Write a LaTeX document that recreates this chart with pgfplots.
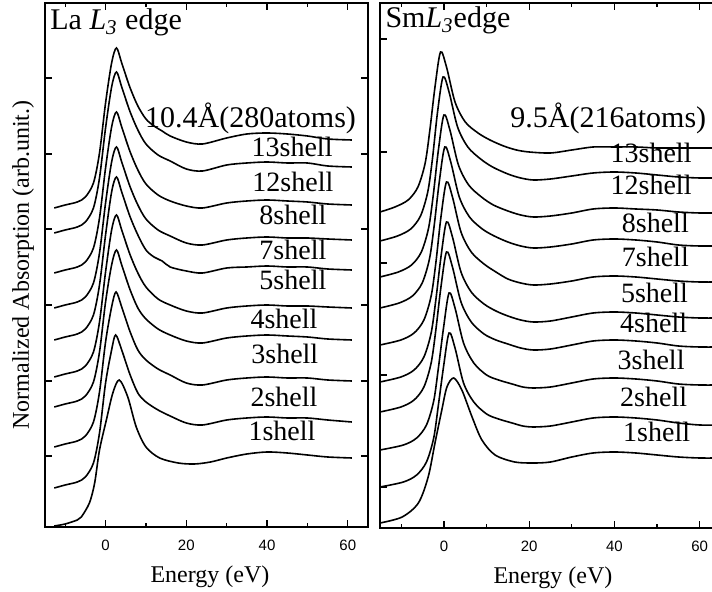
\documentclass[border=0pt]{standalone}
\usepackage{fontspec}
\setmainfont{Liberation Serif}
\setsansfont{Liberation Sans}
\usepackage{pgfplots}
\pgfplotsset{compat=1.18}

\pgfplotsset{
  panel/.style={
    scale only axis,
    xmin=-15, xmax=65,
    ymin=0,
    xtick={0,20,40,60},
    minor xtick={-10,10,30,50},
    tick align=inside,
    major tick length=3.5pt,
    minor tick length=2pt,
    tick style={black, line width=0.6pt},
    axis line style={black, line width=0.8pt},
    yticklabels={},
    xticklabel style={font=\fontsize{7.5}{8.5}\selectfont\sffamily, yshift=-3pt},
    /pgf/number format/assume math mode=true,
    xlabel style={font=\fontsize{12}{14}\selectfont, at={(axis description cs:0.5,0)}, anchor=center, yshift=-25pt},
    ylabel style={font=\fontsize{12}{14}\selectfont},
  },
}
\tikzset{
  sp/.style={black, solid, line width=0.8pt, smooth, mark=none},
  lbl/.style={anchor=base, inner sep=0pt, font=\fontsize{14}{16}\selectfont},
  big/.style={anchor=base west, inner sep=0pt, font=\fontsize{15}{17}\selectfont},
}

\begin{document}
\begin{tikzpicture}
% ---------------- La L3 edge ----------------
\begin{axis}[panel,
  width=161.5pt, height=262pt,
  ymax=524,
  ytick={71,146,222,298,373,449},
  xlabel={Energy (eV)},
  xlabel style={xshift=1.75pt},
  ylabel={Normalized Absorption (arb.unit.)},
  ylabel style={at={(axis description cs:-0.068,0.5)}, anchor=center},
]
% 10.4 A (280 atoms)
\addplot[sp] coordinates {(-12.7,319)(-10,322)(-7,325)(-5,330)(-3,344)(-1.5,374)(0,424)(1.5,464)(2.7,479)(4,464)(6,440)(8,421)(10,408)(12,401)(14,396)(16,391)(20,385)(24,383)(30,389)(35,393)(40,394)(45,393)(50,391)(55,388)(61,387)};
% 13 shell
\addplot[sp] coordinates {(-12.7,294)(-10,297)(-7,300)(-5,305)(-3,319)(-1.5,349)(0,399)(1.5,440)(2.7,455)(4,440)(6,416)(8,397)(10,383)(13,372)(16,366)(20,358)(24,356)(30,362)(35,364)(40,365)(45,364)(50,364)(55,361)(61,360)};
% 12 shell
\addplot[sp] coordinates {(-12.7,254)(-10,257)(-7,260)(-5,265)(-3,279)(-1.5,309)(0,359)(1.5,400)(2.7,415)(4,400)(6,376)(8,357)(10,343)(13,332)(16,326)(20,321)(24,319)(30,324)(35,326)(40,327)(45,326)(50,325)(55,323)(61,322)};
% 8 shell
\addplot[sp] coordinates {(-12.7,219)(-10,222)(-7,225)(-5,230)(-3,244)(-1.5,274)(0,324)(1.5,365)(2.7,380)(4,365)(6,341)(8,322)(10,308)(13,297)(16,291)(20,284)(24,282)(30,287)(35,289)(40,290)(45,289)(50,289)(55,288)(61,287)};
% 7 shell
\addplot[sp] coordinates {(-12.7,187)(-10,190)(-7,193)(-5,198)(-3,212)(-1.5,242)(0,292)(1.5,335)(2.7,350)(4,335)(6,311)(8,292)(10,277)(12,270)(14,266)(16,260)(20,256)(24,254)(30,259)(35,260)(40,261)(45,260)(50,260)(55,258)(61,257)};
% 5 shell
\addplot[sp] coordinates {(-12.7,150)(-10,153)(-7,156)(-5,161)(-3,175)(-1.5,205)(0,255)(1.5,297)(2.7,312)(4,297)(6,273)(8,254)(10,240)(13,228)(16,222)(20,216)(24,214)(30,219)(35,221)(40,222)(45,221)(50,221)(55,220)(61,219)};
% 4 shell
\addplot[sp] coordinates {(-12.7,120)(-10,123)(-7,126)(-5,131)(-3,145)(-1.5,175)(0,225)(1.5,262)(2.7,277)(4,262)(6,238)(8,219)(10,208)(13,198)(16,192)(20,186)(24,184)(30,189)(35,191)(40,192)(45,191)(50,190)(55,188)(61,187)};
% 3 shell
\addplot[sp] coordinates {(-12.7,80)(-10,83)(-7,86)(-5,91)(-3,105)(-1.5,135)(0,185)(1.5,220)(2.6,235)(4,220)(6,196)(8,177)(10,167)(13,158)(16,152)(20,144)(24,142)(30,147)(35,149)(40,150)(45,149)(50,149)(55,147)(61,146)};
% 2 shell
\addplot[sp] coordinates {(-12.7,39)(-10,42)(-7,45)(-5,50)(-3,64)(-1.5,94)(0,144)(1.5,177)(2.5,192)(4,177)(6,153)(8,134)(10,125)(13,117)(16,111)(20,104)(24,102)(30,107)(35,109)(40,110)(45,109)(50,109)(55,107)(61,105)};
% 1 shell
\addplot[sp] coordinates {(-12.7,1)(-10,3)(-7,7)(-6,10)(-4,24)(-2.7,44)(-1.5,77)(0.2,107)(1.8,134)(3.4,147)(5.5,130)(7.6,100)(10,80)(13.4,69)(18,64)(22,63)(26,65)(30,69)(35,73)(40,75)(45,74)(50,72)(55,70)(61,69)};

\node[big] at (axis cs:-13.76,497) {La \textit{L}\textsubscript{\textit{3}} edge};
\node[big] at (axis cs:9.7,399) {10.4Å(280atoms)};
\node[lbl] at (axis cs:46.2,370) {13shell};
\node[lbl] at (axis cs:46.4,335) {12shell};
\node[lbl] at (axis cs:46.4,302) {8shell};
\node[lbl] at (axis cs:46.4,267) {7shell};
\node[lbl] at (axis cs:46.4,237) {5shell};
\node[lbl] at (axis cs:44.2,198) {4shell};
\node[lbl] at (axis cs:44.4,163) {3shell};
\node[lbl] at (axis cs:44.2,120) {2shell};
\node[lbl] at (axis cs:43.7,86) {1shell};
\end{axis}

% ---------------- Sm L3 edge ----------------
\begin{axis}[panel,
  at={(167.5pt,-0.5pt)},
  width=170.5pt, height=262.5pt,
  ymax=525,
  ytick={41,153,265,376,489},
  xlabel={Energy (eV)},
  xlabel style={xshift=1.25pt},
]
% 9.5 A (216 atoms)
\addplot[sp] coordinates {(-15,316)(-11.5,321)(-8.4,328)(-6.1,341)(-4.4,365)(-3.3,398)(-2.1,441)(-0.8,476)(0.6,461)(2.6,426)(5,406)(8,395)(10.8,388)(14,382)(17,378)(20,376)(25,375)(30,378)(35,381)(40,381)(45,381)(50,380)(55,380)(60,380)(65,380)};
% 13 shell
\addplot[sp] coordinates {(-15,287)(-10.9,292)(-7.8,299)(-5.5,312)(-3.8,336)(-2.7,369)(-1.5,416)(-0.2,451)(1.2,436)(3.2,401)(5.6,381)(8.6,369)(11.4,361)(15,354)(18,350)(21,348)(25,349)(30,352)(35,355)(40,356)(45,355)(50,353)(55,351)(60,350)(65,350)};
% 12 shell
\addplot[sp] coordinates {(-15,251)(-10.7,256)(-7.6,263)(-5.3,276)(-3.6,300)(-2.5,333)(-1.3,378)(0,413)(1.4,398)(3.4,363)(5.8,343)(8.8,331)(11.6,323)(15,317)(18,313)(21,311)(25,312)(30,315)(35,319)(40,320)(45,319)(50,318)(55,316)(60,315)(65,315)};
% 8 shell
\addplot[sp] coordinates {(-15,220)(-10.5,225)(-7.4,232)(-5.1,245)(-3.4,269)(-2.3,302)(-1.1,346)(0.2,381)(1.6,366)(3.6,331)(6,311)(9,299)(11.8,292)(15,286)(18,282)(21,280)(25,281)(30,284)(35,288)(40,289)(45,288)(50,286)(55,283)(60,282)(65,282)};
% 7 shell
\addplot[sp] coordinates {(-15,183)(-10.1,188)(-7,195)(-4.7,208)(-3,232)(-1.9,265)(-0.7,311)(0.6,346)(2,331)(4,296)(6.4,276)(9.4,264)(12.2,256)(15,249)(18,245)(21,243)(25,244)(30,247)(35,251)(40,252)(45,251)(50,249)(55,247)(60,246)(65,246)};
% 5 shell
\addplot[sp] coordinates {(-15,146)(-10.1,151)(-7,158)(-4.7,171)(-3,195)(-1.9,228)(-0.7,271)(0.6,306)(2,291)(4,256)(6.4,236)(9.4,224)(12.2,217)(15,212)(18,208)(21,206)(25,207)(30,211)(35,215)(40,216)(45,215)(50,213)(55,211)(60,210)(65,210)};
% 4 shell
\addplot[sp] coordinates {(-15,116)(-10.1,121)(-7,128)(-4.7,141)(-3,165)(-1.9,198)(-0.7,241)(0.6,276)(2,261)(4,226)(6.4,206)(9.4,194)(12.2,188)(15,184)(18,180)(21,178)(25,179)(30,183)(35,187)(40,188)(45,187)(50,185)(55,182)(60,181)(65,181)};
% 3 shell
\addplot[sp] coordinates {(-15,78)(-9.5,83)(-6.4,90)(-4.1,103)(-2.4,127)(-1.3,160)(-0.1,200)(1.2,235)(2.6,220)(4.6,185)(7,165)(10,153)(12.8,148)(16,144)(18.5,141)(21,140)(25,141)(30,145)(35,149)(40,150)(45,149)(50,147)(55,144)(60,143)(65,143)};
% 2 shell
\addplot[sp] coordinates {(-15,41)(-9.5,46)(-6.4,53)(-4.1,66)(-2.4,90)(-1.3,123)(-0.1,161)(1.2,195)(2.6,180)(4.6,145)(7,126)(10,114)(12.8,109)(16,105)(18.5,102)(21,101)(25,102)(30,106)(35,110)(40,111)(45,110)(50,108)(55,105)(60,103)(65,103)};
% 1 shell
\addplot[sp] coordinates {(-15,5)(-9.8,11)(-6,25)(-3.7,51)(-2.1,85)(-0.5,118)(0.7,141)(2.3,150)(4.2,138)(6.6,111)(8.9,88)(12,73)(16.6,66)(21,65)(25,66)(30,71)(35,75)(40,76)(45,75)(50,73)(55,71)(60,70)(65,70)};

\node[big] at (axis cs:-13.8,500) {Sm\textit{L}\textsubscript{\textit{3}}edge};
\node[big] at (axis cs:15.5,400) {9.5Å(216atoms)};
\node[lbl] at (axis cs:48.6,365) {13shell};
\node[lbl] at (axis cs:48.6,333) {12shell};
\node[lbl] at (axis cs:49.6,295) {8shell};
\node[lbl] at (axis cs:49.6,261) {7shell};
\node[lbl] at (axis cs:49.4,225) {5shell};
\node[lbl] at (axis cs:49.2,195) {4shell};
\node[lbl] at (axis cs:48.6,158) {3shell};
\node[lbl] at (axis cs:49.2,121) {2shell};
\node[lbl] at (axis cs:49.9,86) {1shell};
\end{axis}

\pgfresetboundingbox
\path[use as bounding box] (-22.5pt,-32.5pt) rectangle (333.5pt,263.5pt);
\end{tikzpicture}
\end{document}
